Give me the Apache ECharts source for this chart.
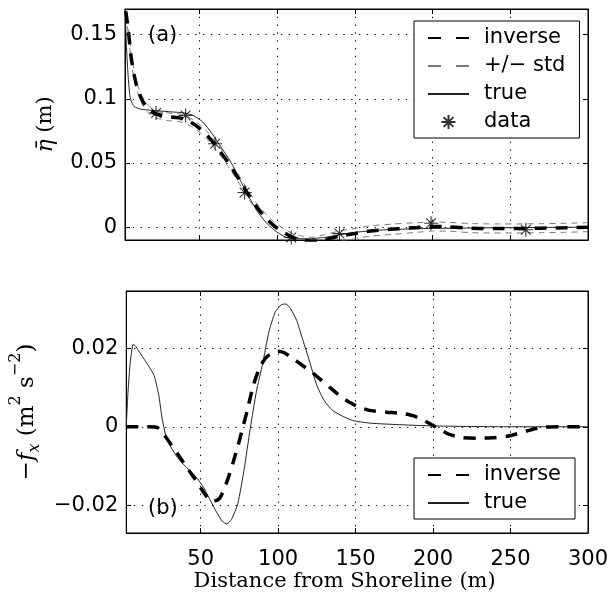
<!DOCTYPE html>
<html><head><meta charset="utf-8">
<script src="https://cdn.jsdelivr.net/npm/echarts@6/dist/echarts.min.js"></script>
<style>html,body{margin:0;padding:0;background:#fff}#c{width:616px;height:599px}</style>
</head><body><div id="c"></div>
<script>
// ---- tick values ----
const xTicks = [50, 100, 150, 200, 250, 300];
const etaTicks = [0, 0.05, 0.1, 0.15];
const fTicks = [-0.02, 0, 0.02];

// ---- panel (a): mean water level ----
const etaTrueX = [2, 3, 4, 5, 6, 8, 12, 20, 30, 40, 46, 52, 58, 64, 70, 76, 82, 88, 94, 100, 106, 112, 120, 130, 140, 150, 170, 200, 240, 300];
const etaTrueY = [0.170, 0.140, 0.118, 0.104, 0.098, 0.094, 0.092, 0.091, 0.090, 0.089, 0.087, 0.082, 0.073, 0.062, 0.051, 0.037, 0.023, 0.011, 0.002, -0.004, -0.008, -0.009, -0.009, -0.008, -0.006, -0.004, -0.002, -0.001, -0.0005, 0];

const etaInvX = [2.5, 4, 6, 8, 10, 13, 17, 22, 30, 38, 44, 50, 56, 62, 68, 74, 80, 86, 92, 98, 104, 110, 116, 122, 130, 140, 150, 160, 175, 190, 200, 210, 225, 240, 255, 270, 285, 300];
const etaInvY = [0.168, 0.155, 0.132, 0.118, 0.108, 0.099, 0.092, 0.088, 0.086, 0.085, 0.082, 0.077, 0.070, 0.061, 0.051, 0.040, 0.028, 0.017, 0.008, 0.001, -0.004, -0.008, -0.010, -0.011, -0.010, -0.007, -0.005, -0.003, -0.0015, -0.0003, 0.0005, 0.0003, -0.0008, -0.001, -0.001, -0.0008, -0.0005, 0];
const etaUpY = [0.171, 0.158, 0.136, 0.121, 0.111, 0.102, 0.095, 0.091, 0.089, 0.088, 0.085, 0.080, 0.073, 0.064, 0.054, 0.043, 0.031, 0.020, 0.011, 0.004, -0.001, -0.005, -0.007, -0.008, -0.006, -0.003, -0.001, 0.001, 0.0025, 0.0035, 0.004, 0.0037, 0.0028, 0.0025, 0.0025, 0.0027, 0.003, 0.0035];
const etaLoY = [0.165, 0.152, 0.128, 0.115, 0.105, 0.096, 0.089, 0.085, 0.083, 0.082, 0.079, 0.074, 0.067, 0.058, 0.048, 0.037, 0.025, 0.014, 0.005, -0.002, -0.007, -0.011, -0.013, -0.014, -0.014, -0.011, -0.009, -0.007, -0.0055, -0.004, -0.003, -0.0031, -0.0043, -0.0045, -0.0045, -0.0043, -0.004, -0.0035];

const dataX = [22, 41, 60, 79, 109, 140, 199, 260];
const dataY = [0.089, 0.087, 0.065, 0.027, -0.008, -0.005, 0.003, -0.002];

// ---- panel (b): forcing ----
const fTrueX = [2, 3, 4.5, 6.5, 8, 10, 13, 16, 20, 23, 25, 28, 32, 36, 40, 44, 48, 52, 56, 60, 64, 67, 70, 74, 78, 82, 86, 90, 94, 98, 102, 105, 108, 112, 116, 120, 125, 130, 135, 140, 148, 160, 180, 200, 250, 300];
const fTrueY = [0, 0.008, 0.016, 0.021, 0.0205, 0.0193, 0.0175, 0.0157, 0.013, 0.008, 0.0025, -0.003, -0.006, -0.0083, -0.01, -0.0115, -0.0132, -0.0155, -0.0185, -0.0215, -0.024, -0.0247, -0.0235, -0.0195, -0.011, -0.0005, 0.009, 0.016, 0.024, 0.029, 0.031, 0.0312, 0.030, 0.027, 0.022, 0.017, 0.0105, 0.0065, 0.0042, 0.003, 0.0016, 0.0009, 0.0005, 0.0002, 0, 0];

const fInvX = [2, 10, 17, 22, 26, 30, 35, 40, 45, 50, 54, 58, 62, 65, 68, 71, 74, 77, 80, 84, 88, 92, 96, 100, 104, 110, 116, 122, 128, 134, 140, 146, 152, 160, 170, 180, 188, 195, 200, 205, 210, 218, 228, 238, 248, 256, 264, 272, 285, 300];
const fInvY = [0, 0, 0, -0.0002, -0.0018, -0.004, -0.0068, -0.0097, -0.0125, -0.0155, -0.0178, -0.019, -0.0183, -0.016, -0.0128, -0.009, -0.005, -0.0005, 0.004, 0.0105, 0.015, 0.0175, 0.0187, 0.0192, 0.0188, 0.0172, 0.0155, 0.0138, 0.0118, 0.0098, 0.0078, 0.0062, 0.005, 0.0041, 0.0037, 0.0034, 0.0027, 0.0014, 0.0003, -0.0008, -0.0019, -0.0027, -0.0029, -0.0028, -0.0024, -0.0016, -0.0007, -0.0001, 0, 0];

const pairs = (xs, ys) => xs.map((x, i) => [x, ys[i]]);
const SANS = 'DejaVu Sans';
const SERIF = 'DejaVu Serif';
const fmt = v => String(+v.toFixed(4)).replace('-', '\u2212');

function xAx(grid, showLabels, pos) {
  const main = pos === 'bottom';
  return {
    type: 'value', gridIndex: grid, min: 2, max: 300, position: pos,
    axisLine: { show: true, onZero: false, lineStyle: { color: '#000', width: 1 } },
    axisTick: { show: true, inside: true, length: 5, customValues: xTicks, lineStyle: { color: '#000' } },
    axisLabel: { show: showLabels, customValues: xTicks, fontFamily: SANS, fontSize: 21, color: '#000', margin: 16 },
    splitLine: { show: main, lineStyle: { color: '#000', width: 1, type: [1.3, 6.5] } }
  };
}
function yAx(grid, min, max, ticks, pos) {
  const main = pos === 'left';
  return {
    type: 'value', gridIndex: grid, min: min, max: max, position: pos,
    axisLine: { show: true, onZero: false, lineStyle: { color: '#000', width: 1 } },
    axisTick: { show: true, inside: true, length: 5, customValues: ticks, lineStyle: { color: '#000' } },
    axisLabel: { show: main, customValues: ticks, formatter: fmt, fontFamily: SANS, fontSize: 21, color: '#000', margin: 8 },
    splitLine: { show: main, lineStyle: { color: '#000', width: 1, type: [1.3, 6.5] } }
  };
}

const xAxes = [xAx(0, false, 'bottom'), xAx(1, true, 'bottom'), xAx(0, false, 'top'), xAx(1, false, 'top')];
xAxes[1].name = 'Distance from Shoreline (m)';
xAxes[1].nameLocation = 'middle';
xAxes[1].nameGap = 33;
xAxes[1].nameTextStyle = { fontFamily: SERIF, fontSize: 21, color: '#000', padding: [0, 25, 0, 0] };

const yAxes = [yAx(0, -0.01, 0.17, etaTicks, 'left'), yAx(1, -0.027, 0.0345, fTicks, 'left'),
               yAx(0, -0.01, 0.17, etaTicks, 'right'), yAx(1, -0.027, 0.0345, fTicks, 'right')];
yAxes[0].name = '{i|\u03B7\u0304}{n| (m)}';
yAxes[0].nameLocation = 'middle';
yAxes[0].nameGap = 68;
yAxes[0].nameTextStyle = { color: '#000', rich: {
  i: { fontFamily: SERIF, fontStyle: 'italic', fontSize: 22, color: '#000' },
  n: { fontFamily: SERIF, fontSize: 21, color: '#000' } } };
yAxes[1].name = '{n|\u2212}{i|f}{sub|x}{n| (m}{sup|2}{n| s}{sup|\u22122}{n|)}';
yAxes[1].nameLocation = 'middle';
yAxes[1].nameGap = 70;
yAxes[1].nameTextStyle = { color: '#000', rich: {
  n: { fontFamily: SERIF, fontSize: 23, color: '#000', verticalAlign: 'bottom', padding: [8, 0, 4, 0] },
  i: { fontFamily: SERIF, fontStyle: 'italic', fontSize: 23, color: '#000', verticalAlign: 'bottom', padding: [8, 0, 4, 0] },
  sub: { fontFamily: SERIF, fontStyle: 'italic', fontSize: 16, color: '#000', verticalAlign: 'bottom' },
  sup: { fontFamily: SERIF, fontSize: 16, color: '#000', verticalAlign: 'top' } } };

const star = 'path://M10,0L10,20M0,10L20,10M3,3L17,17M3,17L17,3';
const legendBase = {
  orient: 'vertical', left: 414, borderColor: '#000', borderWidth: 1, borderRadius: 0,
  backgroundColor: '#fff', itemWidth: 41, itemHeight: 14, itemGap: 6,
  padding: [6, 14, 5, 13], selectedMode: false,
  textStyle: { fontFamily: SANS, fontSize: 21, color: '#000', lineHeight: 22, padding: [0, 0, 0, 10] }
};
const noSym = { opacity: 0 };
const invLeg = { name: 'inverse', lineStyle: { type: [13, 15] }, itemStyle: noSym };
const stdLeg = { name: '+/\u2212 std', lineStyle: { type: [13, 15] }, itemStyle: noSym };
const trueLeg = { name: 'true', itemStyle: noSym };

const option = {
  animation: false,
  backgroundColor: '#fff',
  grid: [
    { left: 125, right: 28, top: 9, height: 231, show: true, borderColor: '#000', borderWidth: 1, backgroundColor: 'transparent' },
    { left: 125, right: 28, top: 291, height: 242, show: true, borderColor: '#000', borderWidth: 1, backgroundColor: 'transparent' }
  ],
  xAxis: xAxes,
  yAxis: yAxes,
  legend: [
    Object.assign({}, legendBase, { top: 21, data: [invLeg, stdLeg, trueLeg, 'data'] }),
    Object.assign({}, legendBase, { top: 458, data: [invLeg, trueLeg] })
  ],
  graphic: [
    { type: 'text', left: 148, top: 25, style: { text: '(a)', font: '21px "DejaVu Sans"', fill: '#000' } },
    { type: 'text', left: 148, top: 498, style: { text: '(b)', font: '21px "DejaVu Sans"', fill: '#000' } }
  ],
  series: [
    { name: 'true', type: 'line', xAxisIndex: 0, yAxisIndex: 0, data: pairs(etaTrueX, etaTrueY), symbol: 'none', smooth: 0.2,
      lineStyle: { color: '#222', width: 1 }, itemStyle: { color: '#222' } },
    { name: '+/\u2212 std', type: 'line', xAxisIndex: 0, yAxisIndex: 0, data: pairs(etaInvX, etaUpY), symbol: 'none', smooth: 0.2,
      lineStyle: { color: '#777', width: 1, type: [6, 5] }, itemStyle: { color: '#777' } },
    { name: '+/\u2212 std', type: 'line', xAxisIndex: 0, yAxisIndex: 0, data: pairs(etaInvX, etaLoY), symbol: 'none', smooth: 0.2,
      lineStyle: { color: '#777', width: 1, type: [6, 5] }, itemStyle: { color: '#777' } },
    { name: 'inverse', type: 'line', xAxisIndex: 0, yAxisIndex: 0, data: pairs(etaInvX, etaInvY), symbol: 'none', smooth: 0.2,
      lineStyle: { color: '#000', width: 3.5, type: [12, 9] }, itemStyle: { color: '#000' }, z: 5 },
    { name: 'data', type: 'scatter', xAxisIndex: 0, yAxisIndex: 0, data: pairs(dataX, dataY), symbol: star, symbolSize: 14,
      itemStyle: { color: '#000', borderColor: '#000', borderWidth: 1.1 }, z: 6 },
    { name: 'true', type: 'line', xAxisIndex: 1, yAxisIndex: 1, data: pairs(fTrueX, fTrueY), symbol: 'none', smooth: 0.2,
      lineStyle: { color: '#222', width: 1 }, itemStyle: { color: '#222' } },
    { name: 'inverse', type: 'line', xAxisIndex: 1, yAxisIndex: 1, data: pairs(fInvX, fInvY), symbol: 'none', smooth: 0.2,
      lineStyle: { color: '#000', width: 3.5, type: [12, 9] }, itemStyle: { color: '#000' }, z: 5 }
  ]
};
const chart = echarts.init(document.getElementById('c'), null, { renderer: 'canvas' });
chart.setOption(option);
</script>
</body></html>
